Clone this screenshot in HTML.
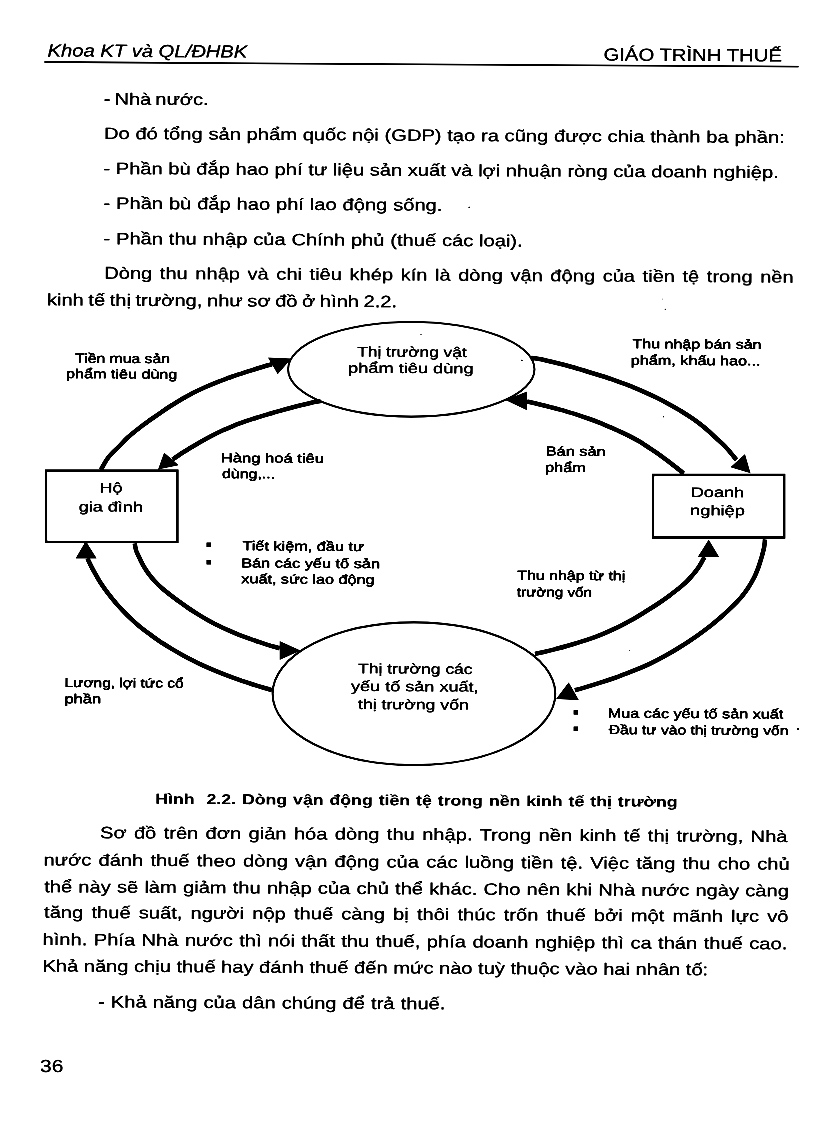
<!DOCTYPE html>
<html><head><meta charset="utf-8"><style>
html,body{margin:0;padding:0;background:#fff;}
body{width:816px;height:1123px;overflow:hidden;}
svg{display:block;}
text{font-family:"Liberation Sans",sans-serif;fill:#000;stroke:#000;stroke-width:0.3px;white-space:pre;}
</style></head><body>
<svg width="816" height="1123" viewBox="0 0 816 1123" style="will-change:transform">
<defs><filter id="crisp" x="0" y="0" width="1" height="1" color-interpolation-filters="sRGB"><feComponentTransfer>
<feFuncR type="linear" slope="2.0" intercept="-0.500"/><feFuncG type="linear" slope="2.0" intercept="-0.500"/><feFuncB type="linear" slope="2.0" intercept="-0.500"/>
</feComponentTransfer></filter></defs>
<g filter="url(#crisp)">
<rect width="816" height="1123" fill="#fff"/>
<ellipse cx="413.95" cy="693.75" rx="141.35" ry="71.35" fill="none" stroke="#000" stroke-width="2.1"/>
<ellipse cx="411.3" cy="369.3" rx="123.2" ry="47.35" fill="none" stroke="#000" stroke-width="2.1"/>
<path d="M101.0 469.7 C102.2 467.7 105.1 461.5 108.0 457.8 C110.8 454.1 114.6 450.9 117.9 447.5 C121.3 444.1 124.5 440.5 128.0 437.3 C131.5 434.1 135.1 431.3 139.0 428.2 C142.9 425.2 147.5 422.0 151.3 419.2 C155.1 416.5 158.4 414.2 161.9 411.8 C165.5 409.4 169.0 407.0 172.6 404.8 C176.1 402.5 179.7 400.4 183.2 398.3 C186.8 396.3 190.3 394.3 193.9 392.5 C197.4 390.7 200.7 389.2 204.5 387.5 C208.3 385.8 212.7 383.9 216.8 382.3 C220.9 380.6 224.9 379.2 229.0 377.7 C233.1 376.3 237.4 374.8 241.3 373.6 C245.2 372.3 248.6 371.2 252.3 370.1 C256.1 368.9 260.5 367.5 263.8 366.5 C267.0 365.6 270.6 364.7 272.0 364.3" fill="none" stroke="#000" stroke-width="4.6"/>
<polygon points="267.9,357.6 291.5,358.4 277.7,374.3" fill="#000"/>
<path d="M320.7 401.1 C319.5 401.3 316.4 401.7 313.3 402.3 C310.2 403.0 305.7 404.1 302.1 405.0 C298.4 405.9 295.1 406.7 291.3 407.7 C287.4 408.7 283.1 409.9 279.0 411.1 C274.9 412.2 270.7 413.5 266.8 414.6 C262.9 415.8 259.4 416.8 255.7 418.0 C252.0 419.2 248.3 420.4 244.6 421.7 C240.9 423.0 237.2 424.3 233.5 425.8 C229.8 427.3 226.1 428.8 222.4 430.5 C218.7 432.2 215.1 434.0 211.3 436.0 C207.5 438.0 203.2 440.4 199.5 442.5 C195.9 444.6 192.8 446.4 189.3 448.5 C185.9 450.7 181.6 453.3 178.8 455.2 C176.0 457.0 173.5 458.8 172.5 459.5" fill="none" stroke="#000" stroke-width="4.6"/>
<polygon points="158.0,469.5 164.1,452.4 178.8,465.2" fill="#000"/>
<path d="M531.1 357.8 C532.5 358.0 536.0 358.4 539.3 359.0 C542.6 359.6 547.0 360.7 550.7 361.6 C554.5 362.5 557.9 363.3 561.8 364.2 C565.7 365.2 569.9 366.4 574.0 367.5 C578.1 368.7 582.2 369.9 586.3 371.2 C590.4 372.4 594.5 373.7 598.5 375.0 C602.5 376.2 606.3 377.4 610.2 378.7 C614.1 380.1 617.9 381.4 621.8 382.9 C625.7 384.3 629.6 385.7 633.5 387.3 C637.4 388.9 641.2 390.5 645.1 392.3 C649.0 394.0 652.8 395.8 656.8 397.8 C660.8 399.8 664.9 401.9 669.0 404.2 C673.1 406.4 677.2 408.6 681.3 411.2 C685.4 413.7 689.6 416.4 693.5 419.2 C697.5 422.0 701.1 424.8 704.9 427.9 C708.6 431.0 712.3 434.4 715.9 437.8 C719.5 441.2 723.3 444.5 726.7 448.2 C730.2 451.9 734.9 458.0 736.5 460.0" fill="none" stroke="#000" stroke-width="4.6"/>
<polygon points="750.6,473.3 745.0,454.0 730.4,467.3" fill="#000"/>
<path d="M683.6 473.5 C682.9 472.9 681.3 471.5 679.3 469.9 C677.3 468.3 674.1 465.8 671.6 463.9 C669.1 461.9 667.0 460.3 664.3 458.4 C661.7 456.4 658.6 454.2 655.7 452.2 C652.9 450.2 649.9 448.3 647.2 446.5 C644.4 444.8 642.2 443.2 639.5 441.6 C636.8 440.0 634.0 438.5 631.0 436.9 C628.1 435.4 625.0 433.9 621.8 432.4 C618.7 430.9 615.3 429.4 611.9 427.9 C608.5 426.4 605.1 425.0 601.3 423.4 C597.5 421.9 593.1 420.2 589.0 418.8 C584.9 417.3 580.9 415.9 576.8 414.6 C572.7 413.3 568.6 412.1 564.5 410.9 C560.4 409.8 556.2 408.6 552.1 407.6 C548.0 406.5 544.0 405.5 539.8 404.5 C535.6 403.5 529.1 402.0 527.0 401.5" fill="none" stroke="#000" stroke-width="4.6"/>
<polygon points="505.4,400.0 526.9,391.4 526.9,410.3" fill="#000"/>
<path d="M134.7 543.5 C135.0 544.7 135.4 548.2 136.3 551.0 C137.3 553.7 139.0 557.0 140.4 559.9 C141.8 562.8 143.1 565.4 144.9 568.2 C146.7 571.1 148.7 574.0 151.0 576.9 C153.3 579.7 155.9 582.4 158.6 585.1 C161.4 587.8 164.5 590.4 167.7 592.9 C170.9 595.5 174.5 598.1 177.8 600.6 C181.1 603.0 184.2 605.3 187.5 607.5 C190.8 609.8 194.3 612.0 197.7 614.1 C201.1 616.2 204.6 618.3 208.0 620.2 C211.3 622.1 214.7 623.8 218.1 625.5 C221.4 627.2 224.6 628.7 228.1 630.2 C231.6 631.8 235.4 633.4 239.1 634.9 C242.8 636.3 246.6 637.7 250.1 638.9 C253.7 640.2 257.0 641.3 260.4 642.4 C263.9 643.6 267.8 644.9 271.0 645.9 C274.2 646.8 278.2 647.9 279.6 648.3" fill="none" stroke="#000" stroke-width="4.6"/>
<polygon points="300.6,650.4 279.6,641.0 279.6,659.9" fill="#000"/>
<path d="M271.9 690.2 C270.5 689.8 267.0 688.8 263.7 687.8 C260.5 686.8 256.0 685.4 252.3 684.2 C248.6 683.0 245.2 681.9 241.3 680.6 C237.4 679.2 233.1 677.7 229.0 676.2 C224.9 674.6 220.9 673.1 216.8 671.4 C212.7 669.7 208.3 667.8 204.5 666.1 C200.7 664.3 197.4 662.8 193.9 661.0 C190.3 659.2 186.8 657.4 183.2 655.4 C179.7 653.5 176.1 651.5 172.6 649.4 C169.0 647.3 165.5 645.1 161.9 642.8 C158.4 640.4 155.1 638.1 151.3 635.3 C147.5 632.5 143.0 629.2 139.0 625.9 C135.0 622.5 131.1 618.9 127.4 615.3 C123.7 611.7 120.2 608.0 116.9 604.3 C113.7 600.7 110.6 596.8 107.9 593.2 C105.2 589.7 102.8 586.2 100.7 583.0 C98.6 579.8 96.9 576.7 95.5 574.1 C94.0 571.6 93.0 569.7 91.9 567.6 C90.8 565.5 89.6 563.0 88.9 561.5 C88.1 559.9 87.8 559.0 87.6 558.5" fill="none" stroke="#000" stroke-width="4.6"/>
<polygon points="85.8,540.9 75.5,558.5 96.8,558.5" fill="#000"/>
<path d="M534.9 653.9 C536.4 653.6 540.5 652.8 543.9 652.0 C547.3 651.2 551.7 650.1 555.5 649.1 C559.3 648.1 562.9 647.2 566.8 646.0 C570.7 644.9 574.9 643.7 579.0 642.4 C583.1 641.1 587.5 639.7 591.3 638.4 C595.1 637.0 598.4 635.9 601.9 634.4 C605.5 633.0 609.0 631.4 612.6 629.7 C616.1 628.1 619.7 626.4 623.2 624.5 C626.8 622.7 630.3 620.7 633.9 618.7 C637.4 616.7 640.7 614.6 644.5 612.3 C648.3 609.9 652.8 607.2 656.8 604.5 C660.8 601.8 664.8 599.0 668.5 596.3 C672.2 593.6 675.8 590.8 679.0 588.3 C682.1 585.7 684.8 583.4 687.3 580.9 C689.8 578.4 692.2 575.5 694.1 573.2 C696.1 570.9 697.5 569.0 698.8 567.0 C700.1 565.1 701.1 563.1 702.1 561.4 C703.0 559.8 704.1 557.8 704.5 557.1" fill="none" stroke="#000" stroke-width="4.6"/>
<polygon points="708.7,539.4 697.7,557.1 719.2,557.1" fill="#000"/>
<path d="M765.0 539.4 C764.8 540.8 764.7 544.4 764.1 547.5 C763.5 550.6 762.3 554.6 761.4 557.9 C760.4 561.3 759.5 564.3 758.3 567.6 C757.0 571.0 755.7 574.5 754.0 577.8 C752.3 581.1 750.4 584.4 748.2 587.7 C746.1 591.0 743.7 594.2 741.0 597.4 C738.2 600.6 735.1 603.7 731.9 606.9 C728.7 610.1 725.4 613.2 721.6 616.5 C717.8 619.8 713.6 623.4 709.3 626.8 C705.0 630.2 700.4 633.5 695.6 636.8 C690.9 640.1 685.9 643.3 680.9 646.5 C676.0 649.6 670.9 652.7 665.7 655.6 C660.5 658.5 655.0 661.4 649.7 663.9 C644.3 666.4 639.1 668.6 633.7 670.7 C628.4 672.9 623.0 674.9 617.8 676.8 C612.6 678.6 607.9 680.2 602.8 681.9 C597.8 683.5 592.2 685.2 587.5 686.6 C582.9 688.0 576.9 689.7 574.8 690.3" fill="none" stroke="#000" stroke-width="4.6"/>
<polygon points="556.0,699.0 568.7,682.3 579.0,700.3" fill="#000"/>
<rect x="46.0" y="470.6" width="131.4" height="71.4" fill="none" stroke="#000" stroke-width="2.5"/>
<rect x="653.0" y="474.9" width="131.2" height="62.6" fill="none" stroke="#000" stroke-width="2.5"/>
<rect x="206.4" y="542.4" width="4.6" height="4.6" fill="#000"/>
<rect x="206.4" y="560.0" width="4.6" height="4.6" fill="#000"/>
<rect x="573.5" y="710.1" width="4.6" height="4.6" fill="#000"/>
<rect x="573.5" y="726.4" width="4.6" height="4.6" fill="#000"/>
<circle cx="469.2" cy="207.3" r="0.9" fill="#000"/>
<circle cx="663.5" cy="416.7" r="0.8" fill="#000"/>
<circle cx="521.9" cy="360.3" r="0.9" fill="#000"/>
<circle cx="421" cy="334.5" r="0.7" fill="#000"/>
<circle cx="662.7" cy="299" r="0.6" fill="#000"/>
<circle cx="665.2" cy="309.2" r="0.7" fill="#000"/>
<circle cx="798" cy="729" r="1.0" fill="#000"/>
<circle cx="629.7" cy="650.5" r="0.5" fill="#000"/>
<line x1="44.4" y1="62.0" x2="798.7" y2="66.6" stroke="#000" stroke-width="1.8"/>
<text transform="translate(47.44 56.40) rotate(0.33) scale(1.1555 1)" style="font-size:17.5px;font-style:italic;word-spacing:0.00px">Khoa KT và QL/ĐHBK</text>
<text transform="translate(603.44 60.50) rotate(0.33) scale(1.1605 1)" style="font-size:17.5px;word-spacing:0.00px">GIÁO TRÌNH THUẾ</text>
<text transform="translate(103.78 104.50) rotate(0.33) scale(1.2200 1)" style="font-size:16.5px;word-spacing:-1.37px">- Nhà nước.</text>
<text transform="translate(103.98 139.00) rotate(0.33) scale(1.2200 1)" style="font-size:16.5px;word-spacing:0.12px">Do đó tổng sản phẩm quốc nội (GDP) tạo ra cũng được chia thành ba phần:</text>
<text transform="translate(103.48 174.00) rotate(0.33) scale(1.2200 1)" style="font-size:16.5px;word-spacing:0.00px">- Phần bù đắp hao phí tư liệu sản xuất và lợi nhuận ròng của doanh nghiệp.</text>
<text transform="translate(103.48 208.80) rotate(0.33) scale(1.2200 1)" style="font-size:16.5px;word-spacing:0.23px">- Phần bù đắp hao phí lao động sống.</text>
<text transform="translate(103.48 244.10) rotate(0.33) scale(1.2200 1)" style="font-size:16.5px;word-spacing:0.19px">- Phần thu nhập của Chính phủ (thuế các loại).</text>
<text transform="translate(104.18 278.80) rotate(0.33) scale(1.2200 1)" style="font-size:16.5px;word-spacing:1.58px">Dòng thu nhập và chi tiêu khép kín là dòng vận động của tiền tệ trong nền</text>
<text transform="translate(46.88 305.30) rotate(0.33) scale(1.2200 1)" style="font-size:16.5px;word-spacing:-0.84px">kinh tế thị trường, như sơ đồ ở hình 2.2.</text>
<text transform="translate(155.28 803.80) rotate(0.33) scale(1.2200 1)" style="font-size:14.5px;font-weight:bold;stroke-width:0.15px;word-spacing:0.88px">Hình&#160;&#160;2.2. Dòng vận động tiền tệ trong nền kinh tế thị trường</text>
<text transform="translate(99.98 838.20) rotate(0.33) scale(1.2200 1)" style="font-size:16.5px;word-spacing:1.43px">Sơ đồ trên đơn giản hóa dòng thu nhập. Trong nền kinh tế thị trường, Nhà</text>
<text transform="translate(43.38 865.40) rotate(0.33) scale(1.2200 1)" style="font-size:16.5px;word-spacing:1.31px">nước đánh thuế theo dòng vận động của các luồng tiền tệ. Việc tăng thu cho chủ</text>
<text transform="translate(44.20 892.20) rotate(0.33) scale(1.2200 1)" style="font-size:16.5px;word-spacing:0.49px">thể này sẽ làm giảm thu nhập của chủ thể khác. Cho nên khi Nhà nước ngày càng</text>
<text transform="translate(44.10 917.80) rotate(0.33) scale(1.2200 1)" style="font-size:16.5px;word-spacing:2.12px">tăng thuế suất, người nộp thuế càng bị thôi thúc trốn thuế bởi một mãnh lực vô</text>
<text transform="translate(42.58 945.00) rotate(0.33) scale(1.2200 1)" style="font-size:16.5px;word-spacing:0.69px">hình. Phía Nhà nước thì nói thất thu thuế, phía doanh nghiệp thì ca thán thuế cao.</text>
<text transform="translate(42.38 971.40) rotate(0.33) scale(1.2200 1)" style="font-size:16.5px;word-spacing:-0.04px">Khả năng chịu thuế hay đánh thuế đến mức nào tuỳ thuộc vào hai nhân tố:</text>
<text transform="translate(97.98 1007.40) rotate(0.33) scale(1.2200 1)" style="font-size:16.5px;word-spacing:0.42px">- Khả năng của dân chúng để trả thuế.</text>
<text transform="translate(40.11 1071.90) rotate(0.33) scale(1.1944 1)" style="font-size:17.5px;word-spacing:0.00px">36</text>
<text transform="translate(75.10 362.60) rotate(0.33) scale(1.2141 1)" style="font-size:13px;stroke-width:0.5px;word-spacing:0.00px">Tiền mua sản</text>
<text transform="translate(65.96 378.10) rotate(0.33) scale(1.2443 1)" style="font-size:13px;stroke-width:0.5px;word-spacing:0.00px">phẩm tiêu dùng</text>
<text transform="translate(357.20 356.40) rotate(0.33) scale(1.2371 1)" style="font-size:14px;stroke-width:0.35px;word-spacing:0.00px">Thị trường vật</text>
<text transform="translate(348.10 372.70) rotate(0.33) scale(1.3011 1)" style="font-size:14px;stroke-width:0.35px;word-spacing:0.00px">phẩm tiêu dùng</text>
<text transform="translate(632.60 348.20) rotate(0.33) scale(1.2308 1)" style="font-size:13px;stroke-width:0.5px;word-spacing:0.00px">Thu nhập bán sản</text>
<text transform="translate(630.75 364.70) rotate(0.33) scale(1.2480 1)" style="font-size:13px;stroke-width:0.5px;word-spacing:0.00px">phẩm, khấu hao...</text>
<text transform="translate(220.72 462.30) rotate(0.33) scale(1.2772 1)" style="font-size:13px;stroke-width:0.5px;word-spacing:0.00px">Hàng hoá tiêu</text>
<text transform="translate(222.00 478.10) rotate(0.33) scale(1.2262 1)" style="font-size:13px;stroke-width:0.5px;word-spacing:0.00px">dùng,...</text>
<text transform="translate(545.64 455.60) rotate(0.33) scale(1.2587 1)" style="font-size:13px;stroke-width:0.5px;word-spacing:0.00px">Bán sản</text>
<text transform="translate(544.94 471.80) rotate(0.33) scale(1.2613 1)" style="font-size:13px;stroke-width:0.5px;word-spacing:0.00px">phẩm</text>
<text transform="translate(99.41 492.40) rotate(0.33) scale(1.2875 1)" style="font-size:14px;stroke-width:0.35px;word-spacing:0.00px">Hộ</text>
<text transform="translate(78.81 511.40) rotate(0.33) scale(1.2875 1)" style="font-size:14px;stroke-width:0.35px;word-spacing:0.00px">gia đình</text>
<text transform="translate(690.70 496.90) rotate(0.33) scale(1.2975 1)" style="font-size:14px;stroke-width:0.35px;word-spacing:0.00px">Doanh</text>
<text transform="translate(690.10 515.10) rotate(0.33) scale(1.3049 1)" style="font-size:14px;stroke-width:0.35px;word-spacing:0.00px">nghiệp</text>
<text transform="translate(242.40 550.30) rotate(0.33) scale(1.2515 1)" style="font-size:13px;stroke-width:0.5px;word-spacing:0.00px">Tiết kiệm, đầu tư</text>
<text transform="translate(241.14 567.40) rotate(0.33) scale(1.2569 1)" style="font-size:13px;stroke-width:0.5px;word-spacing:0.00px">Bán các yếu tố sản</text>
<text transform="translate(241.30 583.30) rotate(0.33) scale(1.2453 1)" style="font-size:13px;stroke-width:0.5px;word-spacing:0.00px">xuất, sức lao động</text>
<text transform="translate(517.20 579.70) rotate(0.33) scale(1.2264 1)" style="font-size:13px;stroke-width:0.5px;word-spacing:0.00px">Thu nhập từ thị</text>
<text transform="translate(516.80 596.40) rotate(0.33) scale(1.1719 1)" style="font-size:13px;stroke-width:0.5px;word-spacing:0.00px">trường vốn</text>
<text transform="translate(358.00 673.30) rotate(0.33) scale(1.2505 1)" style="font-size:14px;stroke-width:0.35px;word-spacing:0.00px">Thị trường các</text>
<text transform="translate(351.00 691.00) rotate(0.33) scale(1.2918 1)" style="font-size:14px;stroke-width:0.35px;word-spacing:0.00px">yếu tố sản xuất,</text>
<text transform="translate(358.00 709.00) rotate(0.33) scale(1.2621 1)" style="font-size:14px;stroke-width:0.35px;word-spacing:0.00px">thị trường vốn</text>
<text transform="translate(64.51 687.00) rotate(0.33) scale(1.1879 1)" style="font-size:13px;stroke-width:0.5px;word-spacing:0.00px">Lương, lợi tức cổ</text>
<text transform="translate(64.43 703.20) rotate(0.33) scale(1.2704 1)" style="font-size:13px;stroke-width:0.5px;word-spacing:0.00px">phần</text>
<text transform="translate(607.85 717.60) rotate(0.33) scale(1.2457 1)" style="font-size:13px;stroke-width:0.5px;word-spacing:0.00px">Mua các yếu tố sản xuất</text>
<text transform="translate(608.80 734.10) rotate(0.33) scale(1.2027 1)" style="font-size:13px;stroke-width:0.5px;word-spacing:0.00px">Đầu tư vào thị trường vốn</text>
</g>
</svg>
</body></html>
